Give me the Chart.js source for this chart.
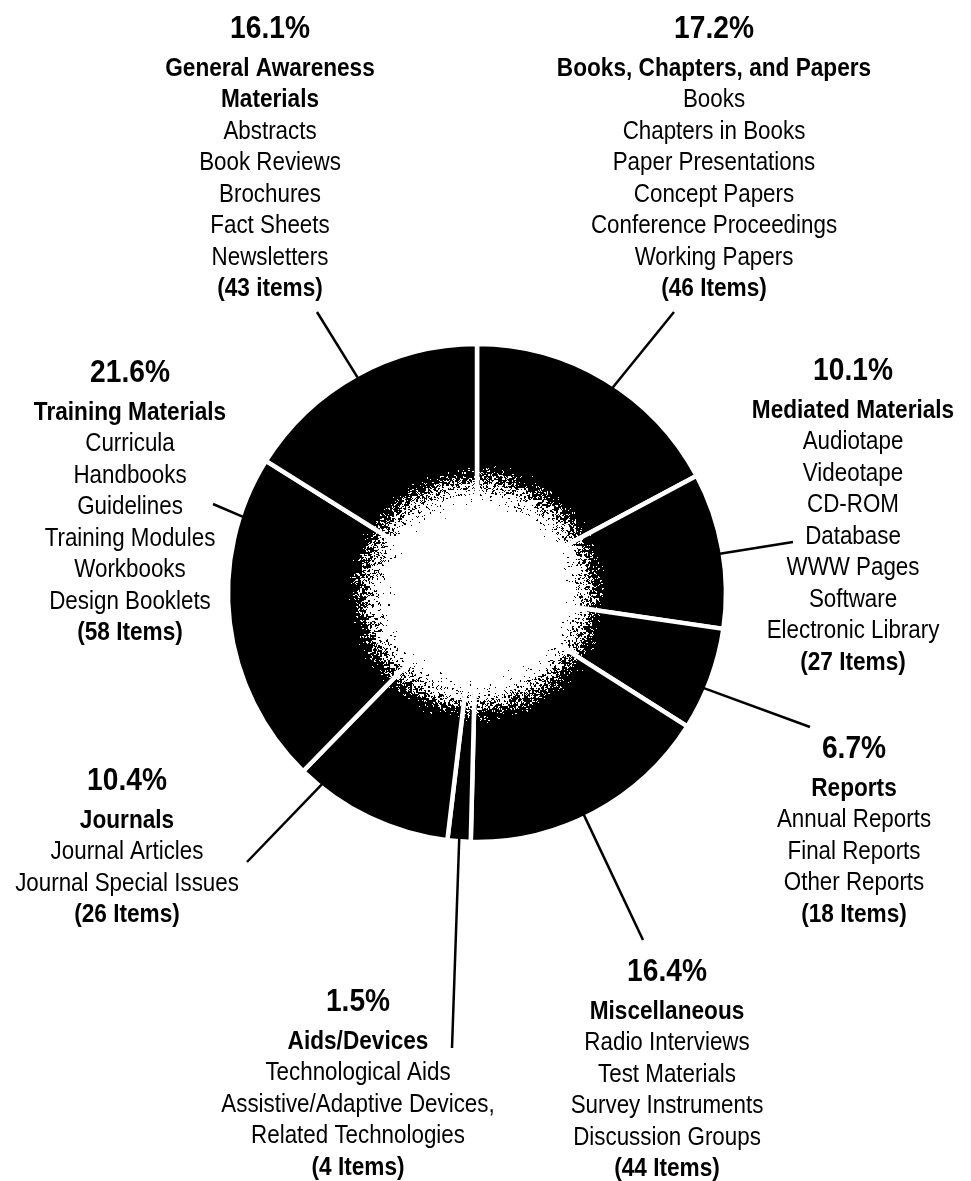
<!DOCTYPE html>
<html>
<head>
<meta charset="utf-8">
<script src="https://cdn.jsdelivr.net/npm/chart.js@4.4.1/dist/chart.umd.min.js"></script>
<style>
  html, body { margin: 0; padding: 0; background: #ffffff; }
  canvas { display: block; }
</style>
</head>
<body>
<canvas id="pieChart" width="971" height="1181"></canvas>
<script>
// Dados do gráfico (sentido horário a partir do topo)
var categories = ['Books, Chapters, and Papers', 'Mediated Materials', 'Reports', 'Miscellaneous',
                  'Aids/Devices', 'Journals', 'Training Materials', 'General Awareness Materials'];
var percentages = [17.2, 10.1, 6.7, 16.4, 1.5, 10.4, 21.6, 16.1];
var itemCounts = [46, 27, 18, 44, 4, 26, 58, 43];
var countWords = ['Items', 'Items', 'Items', 'Items', 'Items', 'Items', 'Items', 'items'];
var titleLines = [
    ['Books, Chapters, and Papers'],
    ['Mediated Materials'],
    ['Reports'],
    ['Miscellaneous'],
    ['Aids/Devices'],
    ['Journals'],
    ['Training Materials'],
    ['General Awareness', 'Materials']
];
var subItems = [
    ['Books', 'Chapters in Books', 'Paper Presentations', 'Concept Papers', 'Conference Proceedings', 'Working Papers'],
    ['Audiotape', 'Videotape', 'CD-ROM', 'Database', 'WWW Pages', 'Software', 'Electronic Library'],
    ['Annual Reports', 'Final Reports', 'Other Reports'],
    ['Radio Interviews', 'Test Materials', 'Survey Instruments', 'Discussion Groups'],
    ['Technological Aids', 'Assistive/Adaptive Devices,', 'Related Technologies'],
    ['Journal Articles', 'Journal Special Issues'],
    ['Curricula', 'Handbooks', 'Guidelines', 'Training Modules', 'Workbooks', 'Design Booklets'],
    ['Abstracts', 'Book Reviews', 'Brochures', 'Fact Sheets', 'Newsletters']
];

// Layout dos rótulos (centro do bloco e ponta da linha guia)
var labelX = [714, 853, 854, 667, 358, 127, 130, 270];
var labelY = [26, 368, 746, 969, 999, 778, 370, 26];
var leaderEndX = [674, 793, 810, 643, 452, 247, 213, 317];
var leaderEndY = [312, 542, 727, 940, 1048, 862, 504, 312];
var leaderT = [0.54, 0.52, 0.6, 0.54, 0.5, 0.86, 0.82, 0.5];

var FONT = '"Liberation Sans", Arial, sans-serif';

function hash(x, y) {
    var n = (Math.imul(x, 374761393) + Math.imul(y, 668265263)) | 0;
    n = Math.imul(n ^ (n >>> 13), 1274126177);
    n = n ^ (n >>> 16);
    return (n >>> 0) / 4294967296;
}

// texto estreito (fonte comprimida na horizontal)
function narrowText(ctx, text, x, y, sx) {
    ctx.save();
    ctx.translate(x, y);
    ctx.scale(sx, 1);
    ctx.fillText(text, 0, 0);
    ctx.restore();
}

// Miolo granulado (branco -> preto)
var speckle = {
    id: 'speckle',
    afterDatasetsDraw: function(chart) {
        var ctx = chart.ctx;
        var arc = chart.getDatasetMeta(0).data[0];
        var cx = arc.x, cy = arc.y;
        var rin = arc.innerRadius;
        var rout = rin + 52;
        var x0 = Math.floor(cx - rout), y0 = Math.floor(cy - rout);
        var size = Math.ceil(rout * 2);
        var img = ctx.getImageData(x0, y0, size, size);
        var d = img.data;
        for (var j = 0; j < size; j++) {
            for (var i = 0; i < size; i++) {
                var px = x0 + i, py = y0 + j;
                var r = Math.sqrt((px - cx) * (px - cx) + (py - cy) * (py - cy));
                if (r < rin - 2 || r > rout) continue;
                var t = (r - rin) / (rout - rin);
                if (t < 0) t = 0;
                var p = Math.pow(t, 1.6);
                var noise = 0.55 * hash(px >> 1, py >> 1) + 0.45 * hash(px, py);
                if (noise > p) {
                    var k = (j * size + i) * 4;
                    d[k] = 255; d[k + 1] = 255; d[k + 2] = 255; d[k + 3] = 255;
                }
            }
        }
        ctx.putImageData(img, x0, y0);

        // Linhas guia
        ctx.save();
        ctx.strokeStyle = '#000000';
        ctx.lineWidth = 2.5;
        var arcs = chart.getDatasetMeta(0).data;
        for (var a = 0; a < arcs.length; a++) {
            var el = arcs[a];
            var ang = el.startAngle + leaderT[a] * (el.endAngle - el.startAngle);
            var sx = el.x + Math.cos(ang) * (el.outerRadius - 3);
            var sy = el.y + Math.sin(ang) * (el.outerRadius - 3);
            ctx.beginPath();
            ctx.moveTo(sx, sy);
            ctx.lineTo(leaderEndX[a], leaderEndY[a]);
            ctx.stroke();
        }
        ctx.restore();
    }
};

// Blocos de texto
var labels = {
    id: 'labels',
    afterDraw: function(chart) {
        var ctx = chart.ctx;
        ctx.save();
        ctx.fillStyle = '#000000';
        ctx.textAlign = 'center';
        ctx.textBaseline = 'alphabetic';
        var pitch = 31.5;
        for (var i = 0; i < categories.length; i++) {
            var x = labelX[i];
            var y = labelY[i];
            ctx.font = 'bold 32px ' + FONT;
            narrowText(ctx, percentages[i].toFixed(1) + '%', x, y + 11.5, 0.88);
            var ly = y + 40;
            ctx.font = 'bold 26px ' + FONT;
            for (var t = 0; t < titleLines[i].length; t++) {
                narrowText(ctx, titleLines[i][t], x, ly + 9.5, 0.87);
                ly += pitch;
            }
            ctx.font = '26px ' + FONT;
            for (var s = 0; s < subItems[i].length; s++) {
                narrowText(ctx, subItems[i][s], x, ly + 9.5, 0.86);
                ly += pitch;
            }
            ctx.font = 'bold 26px ' + FONT;
            narrowText(ctx, '(' + itemCounts[i] + ' ' + countWords[i] + ')', x, ly + 9.5, 0.87);
        }
        ctx.restore();
    }
};

var ctxPie = document.getElementById('pieChart');
var pieChart = new Chart(ctxPie, {
    type: 'doughnut',
    data: {
        labels: categories,
        datasets: [{
            data: percentages,
            backgroundColor: '#000000',
            borderColor: '#ffffff',
            borderWidth: 4.5,
            borderJoinStyle: 'bevel'
        }]
    },
    options: {
        responsive: false,
        animation: false,
        events: [],
        rotation: 0,
        radius: 249,
        cutout: 94,
        layout: {
            padding: { left: 177, right: 194, top: 293, bottom: 288 }
        },
        plugins: {
            legend: { display: false },
            tooltip: { enabled: false }
        }
    },
    plugins: [speckle, labels]
});
</script>
</body>
</html>
